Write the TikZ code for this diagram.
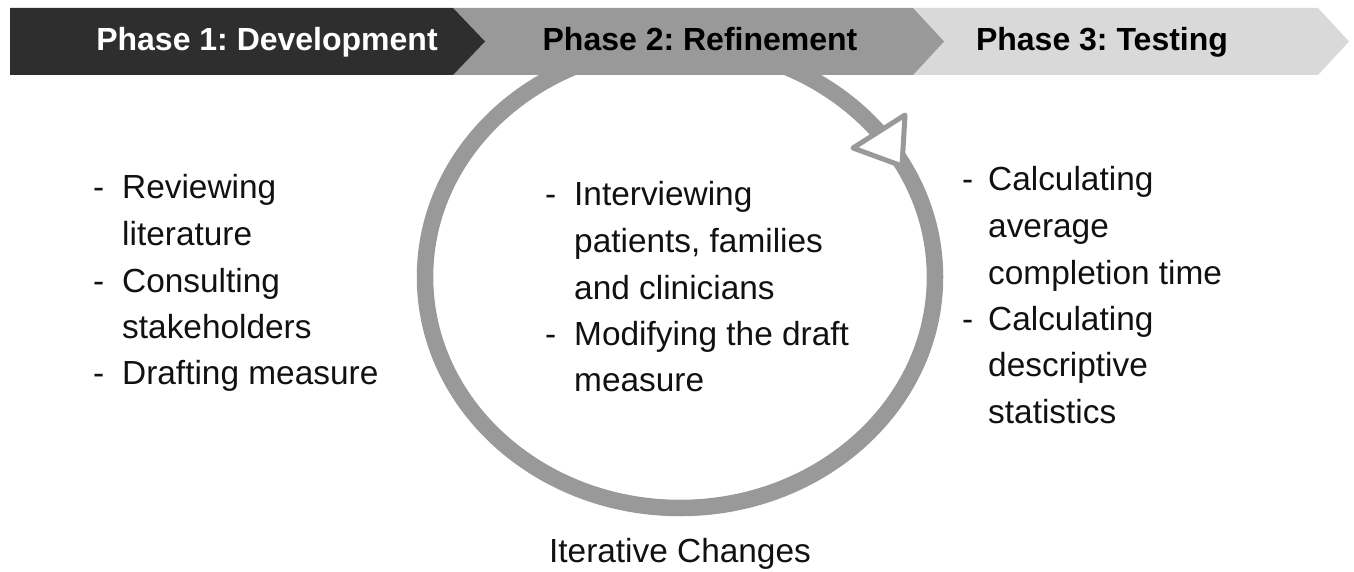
\documentclass[tikz,border=0pt]{standalone}
\usepackage{fontspec}
\setmainfont{Liberation Sans}
\usepackage{array}
\frenchspacing
\definecolor{darkband}{HTML}{2E2E2E}
\definecolor{midband}{HTML}{999999}
\definecolor{lightband}{HTML}{D9D9D9}
\definecolor{ring}{HTML}{999999}
\definecolor{ink}{HTML}{111111}
\tikzset{
  band/.style={draw=none},
  phasetext/.style={inner sep=0pt, anchor=base, font=\fontsize{32}{38}\selectfont\bfseries},
  listtext/.style={inner sep=0pt, anchor=base west, text=ink, font=\fontsize{33.4}{46.5}\selectfont},
}
\newcommand{\dashitem}{\makebox[29pt][l]{-}}
\begin{document}
\begin{tikzpicture}[x=1pt,y=-1pt]
\useasboundingbox (0,0) rectangle (1354,572);
\fill[white] (0,0) rectangle (1354,572);
% ring
\draw[ring, line width=16.5pt] (680,277) ellipse [x radius=255, y radius=231];
% bands
\fill[lightband] (913,8) -- (1318,8) -- (1349,41.5) -- (1318,75) -- (913,75) -- cycle;
\fill[midband] (453,8) -- (913,8) -- (944,41.5) -- (913,75) -- (453,75) -- cycle;
\fill[darkband] (10,8) -- (453,8) -- (485,41.5) -- (453,75) -- (10,75) -- cycle;
\node[phasetext, text=white] (p1) at (267,51) {Phase 1: Development};
\node[phasetext, text=black] (p2) at (700,51) {Phase 2: Refinement};
\node[phasetext, text=black] (p3) at (1102,51) {Phase 3: Testing};
% arrowhead
\filldraw[fill=white, draw=ring, line width=5pt, line join=round] (853,148) -- (905,115) -- (902,166) -- cycle;
% lists
\node[listtext] (l1) at (93,199) {\begin{tabular}[t]{@{}l@{}l@{}}
\dashitem & Reviewing\\ & literature\\ \dashitem & Consulting\\ & stakeholders\\ \dashitem & Drafting measure
\end{tabular}};
\node[listtext] (l2) at (545,206) {\begin{tabular}[t]{@{}l@{}l@{}}
\dashitem & Interviewing\\ & patients, families\\ & and clinicians\\ \dashitem & Modifying the draft\\ & measure
\end{tabular}};
\node[listtext] (l3) at (962,191) {\begin{tabular}[t]{@{}l@{}l@{}}
\makebox[26pt][l]{-} & Calculating\\ & average\\ & completion time\\ \makebox[26pt][l]{-} & Calculating\\ & descriptive\\ & statistics
\end{tabular}};
\node[listtext, anchor=base] (it) at (680,562) {Iterative Changes};
\end{tikzpicture}
\end{document}
